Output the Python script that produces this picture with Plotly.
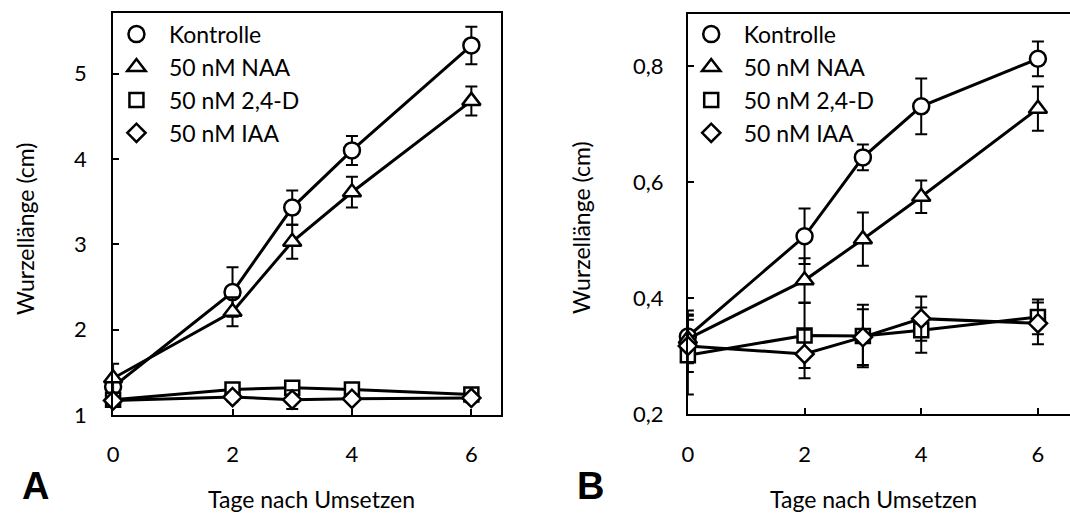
import plotly.graph_objects as go

# ---------------- data ----------------
days = [0, 2, 3, 4, 6]
series_names = ["Kontrolle", "50 nM NAA", "50 nM 2,4-D", "50 nM IAA"]

# Panel A (cm)
a_kontrolle = [1.33, 2.44, 3.43, 4.10, 5.33]
a_kontrolle_err = [0.05, 0.29, 0.20, 0.17, 0.22]
a_naa = [1.43, 2.21, 3.03, 3.61, 4.68]
a_naa_err = [0.17, 0.17, 0.20, 0.18, 0.17]
a_24d = [1.18, 1.30, 1.32, 1.30, 1.24]
a_24d_err = [0.03, 0.04, 0.04, 0.04, 0.07]
a_iaa = [1.17, 1.21, 1.18, 1.19, 1.20]
a_iaa_err = [0.03, 0.05, 0.11, 0.05, 0.05]

# Panel B (cm)
b_kontrolle = [0.334, 0.507, 0.643, 0.731, 0.813]
b_kontrolle_err = [0.045, 0.048, 0.022, 0.048, 0.030]
b_naa = [0.330, 0.431, 0.502, 0.575, 0.727]
b_naa_err = [0.042, 0.038, 0.046, 0.028, 0.038]
b_24d = [0.302, 0.336, 0.335, 0.345, 0.368]
b_24d_err = [0.068, 0.056, 0.054, 0.039, 0.030]
b_iaa = [0.318, 0.304, 0.333, 0.365, 0.357]
b_iaa_err = [0.045, 0.042, 0.048, 0.038, 0.036]

x_ticks = [0, 2, 4, 6]
a_y_ticks = [1, 2, 3, 4, 5]
b_y_ticks = [0.2, 0.4, 0.6, 0.8]

# ---------------- styling ----------------
W, H = 1070, 518
FONT = "Lato, Open Sans, sans-serif"
symbols = ["circle", "triangle-up", "square", "diamond"]
msizes = [16, 16, 14, 14]

def px_x(p):
    return p / W

def px_y(p):
    return 1 - p / H

fig = go.Figure()

panels = [
    ("x", "y", "legend",
     [a_kontrolle, a_naa, a_24d, a_iaa],
     [a_kontrolle_err, a_naa_err, a_24d_err, a_iaa_err]),
    ("x2", "y2", "legend2",
     [b_kontrolle, b_naa, b_24d, b_iaa],
     [b_kontrolle_err, b_naa_err, b_24d_err, b_iaa_err]),
]

for xa, ya, leg, vals, errs in panels:
    for i, name in enumerate(series_names):
        fig.add_trace(go.Scatter(
            x=days, y=vals[i], xaxis=xa, yaxis=ya,
            mode="lines+markers", name=name, showlegend=False,
            line=dict(color="black", width=3),
            marker=dict(symbol=symbols[i], size=msizes[i], color="white",
                        line=dict(color="black", width=2.5)),
            error_y=dict(type="data", array=errs[i], visible=True,
                         color="black", thickness=2, width=6),
            cliponaxis=False,
        ))
    for i, name in enumerate(series_names):
        fig.add_trace(go.Scatter(
            x=[None], y=[None], xaxis=xa, yaxis=ya,
            mode="markers", name=name, legend=leg, showlegend=True,
            marker=dict(symbol=symbols[i], size=msizes[i], color="white",
                        line=dict(color="black", width=2.5)),
        ))

axis_common = dict(
    showgrid=False, zeroline=False, showline=True, linecolor="black",
    linewidth=2, ticks="inside", ticklen=6, tickwidth=2, tickcolor="black",
    tickfont=dict(family=FONT, size=22, color="black"),
)

fig.update_layout(
    width=W, height=H,
    margin=dict(l=0, r=0, t=0, b=0),
    paper_bgcolor="white", plot_bgcolor="white",
    separators=",.",
    font=dict(family=FONT, color="black"),
    xaxis=dict(domain=[px_x(107.7), px_x(498)], range=[0, 6.5],
               tickvals=x_ticks, mirror=True, anchor="y",
               ticklabelstandoff=19, **axis_common),
    yaxis=dict(domain=[px_y(425.7), px_y(13.3)], range=[1, 5.71],
               tickvals=a_y_ticks, mirror=True, anchor="x",
               ticklabelstandoff=20, **axis_common),
    xaxis2=dict(domain=[px_x(685.7), 1.0], range=[0, 6.55],
                tickvals=x_ticks, mirror=True, anchor="y2",
                ticklabelstandoff=19, **axis_common),
    yaxis2=dict(domain=[px_y(425), px_y(14)], range=[0.2, 0.8908],
                tickvals=b_y_ticks, tickformat=".1f", mirror=False,
                anchor="x2", ticklabelstandoff=18, **axis_common),
    legend=dict(x=px_x(98.5), y=px_y(13), xanchor="left", yanchor="top",
                bgcolor="rgba(0,0,0,0)", itemwidth=55,
                font=dict(family=FONT, size=23, color="black")),
    legend2=dict(x=px_x(676.5), y=px_y(13), xanchor="left", yanchor="top",
                 bgcolor="rgba(0,0,0,0)", itemwidth=55,
                 font=dict(family=FONT, size=23, color="black")),
)

annots = [
    dict(text="Wurzellänge (cm)", x=px_x(19), y=px_y(235), textangle=-90),
    dict(text="Wurzellänge (cm)", x=px_x(578), y=px_y(234), textangle=-90),
    dict(text="Tage nach Umsetzen", x=px_x(307), y=px_y(512)),
    dict(text="Tage nach Umsetzen", x=px_x(872), y=px_y(512)),
]
for a in annots:
    fig.add_annotation(xref="paper", yref="paper", showarrow=False,
                       xanchor="center", yanchor="middle",
                       font=dict(family=FONT, size=23, color="black"), **a)

for letter, xp in [("A", 30), ("B", 588)]:
    fig.add_annotation(text="<b>%s</b>" % letter, xref="paper", yref="paper",
                       x=px_x(xp), y=px_y(498), showarrow=False,
                       xanchor="center", yanchor="middle",
                       font=dict(family="Liberation Sans, Arial, sans-serif",
                                 size=38, color="black"))

fig.write_html("out.html")
